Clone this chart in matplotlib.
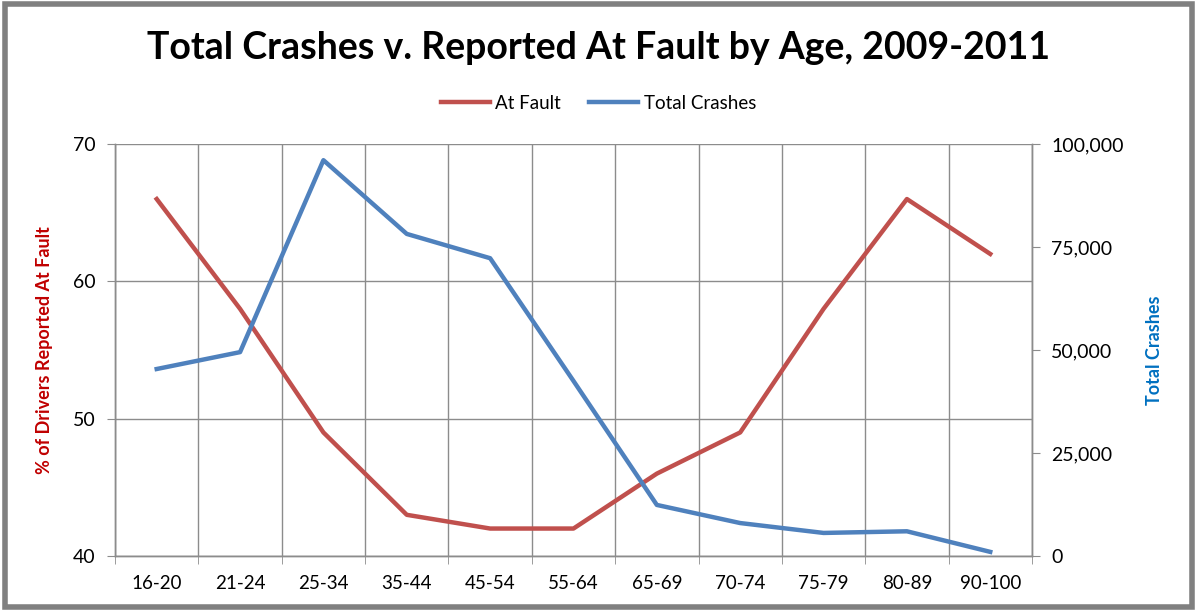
import matplotlib
matplotlib.use("Agg")
import matplotlib.pyplot as plt
import numpy as np
from matplotlib.patches import Rectangle
from matplotlib.ticker import FuncFormatter, MultipleLocator

plt.rcParams['font.family'] = ['Lato', 'DejaVu Sans']

# data
age_groups = ["16-20", "21-24", "25-34", "35-44", "45-54", "55-64",
              "65-69", "70-74", "75-79", "80-89", "90-100"]
at_fault_pct = [66, 58, 49, 43, 42, 42, 46, 49, 58, 66, 62]
total_crashes = [45400, 49500, 96100, 78200, 72300, 42500,
                 12400, 8000, 5600, 6000, 1000]

red = "#C0504D"
blue = "#4F81BD"
grid_col = "#8C8C8C"

fig = plt.figure(figsize=(11.97, 6.12), dpi=100)
ax = fig.add_axes([0.0961, 0.0915, 0.766, 0.673])
ax2 = ax.twinx()

x = np.arange(len(age_groups))
ax.plot(x, at_fault_pct, color=red, lw=3.2, label="At Fault", zorder=3)
ax2.plot(x, total_crashes, color=blue, lw=3.2, label="Total Crashes", zorder=3)

ax.set_xlim(-0.5, len(age_groups) - 0.5)
ax.set_ylim(40, 70)
ax2.set_ylim(0, 100000)
ax.yaxis.set_major_locator(MultipleLocator(10))
ax2.yaxis.set_major_locator(MultipleLocator(25000))
ax2.yaxis.set_major_formatter(FuncFormatter(lambda v, p: f"{int(v):,}"))

ax.set_xticks(x)
ax.set_xticklabels(age_groups)
ax.set_xticks(np.arange(-0.5, len(age_groups)), minor=True)
ax.tick_params(axis='x', which='major', length=0, pad=14, labelsize=13.5)
ax.tick_params(axis='x', which='minor', length=6, color=grid_col, direction='out')
ax.tick_params(axis='y', length=6, color=grid_col, labelsize=14, pad=8)
ax2.tick_params(axis='y', length=6, color=grid_col, labelsize=14, pad=8)

ax.grid(axis='x', which='minor', color=grid_col, lw=1)
ax.grid(axis='y', which='major', color=grid_col, lw=1)
ax.set_axisbelow(True)

for a in (ax, ax2):
    a.spines['top'].set_visible(False)
    for side in ('left', 'right', 'bottom'):
        a.spines[side].set_color(grid_col)
        a.spines[side].set_linewidth(1)

ax.set_ylabel("% of Drivers Reported At Fault", color="#C00000",
              fontsize=13, fontweight='bold', labelpad=14)
ax2.set_ylabel("Total Crashes", color="#0070C0",
               fontsize=13, fontweight='bold', labelpad=16)

fig.text(0.5, 0.922, "Total Crashes v. Reported At Fault by Age, 2009-2011",
         ha='center', va='center', fontsize=27, fontweight='bold')

h1, l1 = ax.get_legend_handles_labels()
h2, l2 = ax2.get_legend_handles_labels()
fig.legend(h1 + h2, l1 + l2, loc='center', bbox_to_anchor=(0.5, 0.831),
           ncol=2, frameon=False, fontsize=13.5, handlelength=2.6,
           columnspacing=1.5, handletextpad=0.3)

# outer chart frame
fig.patches.append(Rectangle((0.004, 0.008), 0.992, 0.986, transform=fig.transFigure,
                             fill=False, edgecolor="#808080", lw=4))

fig.savefig("out.png", dpi=100, facecolor="white")
